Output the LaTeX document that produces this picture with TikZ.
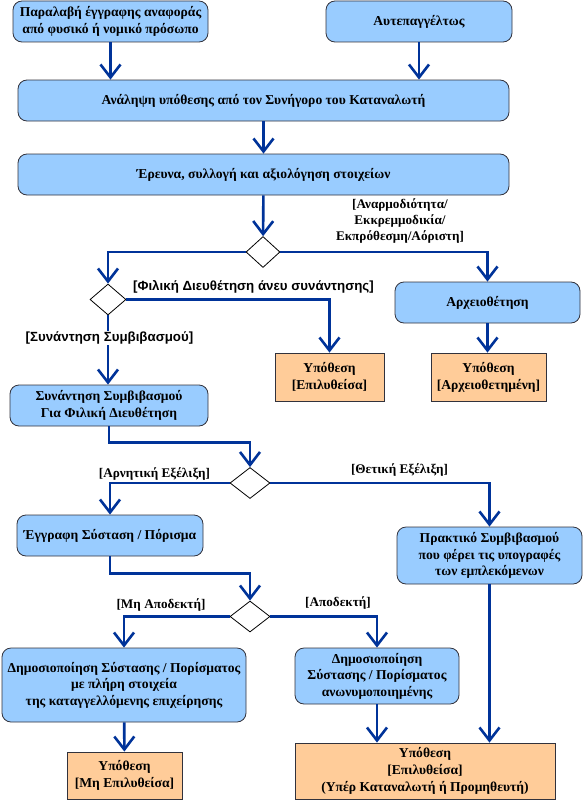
\documentclass[tikz,border=0pt]{standalone}
\usepackage{fontspec}
\setmainfont{Liberation Serif}
\newfontfamily\labelsans{Liberation Sans}
\usetikzlibrary{arrows.meta,shapes.geometric}
\definecolor{flowblue}{RGB}{0,51,153}
\definecolor{stepfill}{RGB}{153,204,255}
\definecolor{casefill}{RGB}{255,204,153}
\definecolor{edgegray}{RGB}{50,50,60}
\tikzset{
  stepbox/.style={draw=edgegray, line width=0.8pt, fill=stepfill, rounded corners=9pt,
    align=center, font=\bfseries\fontsize{13.6}{16.5}\selectfont, inner sep=0pt},
  casebox/.style={draw=edgegray, line width=0.8pt, fill=casefill,
    align=center, font=\bfseries\fontsize{13.6}{17}\selectfont, inner sep=0pt},
  choice/.style={draw=black, line width=0.8pt, fill=white, shape=diamond,
    minimum width=#1, minimum height=31pt, inner sep=0pt},
  choice/.default=36pt,
  flow/.style={draw=flowblue, line width=2.6pt, -{Straight Barb[length=13pt,width=20pt,line width=2.6pt]}},
  guard/.style={font=\bfseries\fontsize{13.2}{16}\selectfont, align=center, inner sep=1pt},
  sguard/.style={font=\labelsans\bfseries\fontsize{13.3}{15}\selectfont, inner sep=1pt}
}
\begin{document}
\begin{tikzpicture}[x=1pt,y=-1pt]
  \useasboundingbox (0,0) rectangle (583,800);
  % activities
  \node[stepbox, minimum width=195pt, minimum height=41pt] (recv) at (110.5,21.5)
    {Παραλαβή έγγραφης αναφοράς\\από φυσικό ή νομικό πρόσωπο};
  \node[stepbox, minimum width=186pt, minimum height=41pt] (auto) at (419,21.5) {Αυτεπαγγέλτως};
  \node[stepbox, minimum width=491pt, minimum height=41pt] (take) at (263.5,100.5)
    {Ανάληψη υπόθεσης από τον Συνήγορο του Καταναλωτή};
  \node[stepbox, minimum width=491pt, minimum height=41pt] (study) at (263.5,174.5)
    {Έρευνα, συλλογή και αξιολόγηση στοιχείων};
  \node[choice=34pt] (d1) at (263,252) {};
  \node[choice] (d2) at (108,299.5) {};
  \node[stepbox, minimum width=185pt, minimum height=41pt] (archive) at (487.5,302.5) {Αρχειοθέτηση};
  \node[casebox, minimum width=109pt, minimum height=48pt] (solved) at (329.5,377)
    {Υπόθεση\\{[Επιλυθείσα]}};
  \node[casebox, minimum width=115pt, minimum height=48pt] (filed) at (488.5,377)
    {Υπόθεση\\{[Αρχειοθετημένη]}};
  \node[stepbox, minimum width=198pt, minimum height=41pt] (meet) at (109,405.5)
    {Συνάντηση Συμβιβασμού\\Για Φιλική Διευθέτηση};
  \node[choice=40pt] (d3) at (250,483) {};
  \node[stepbox, minimum width=186pt, minimum height=41pt] (report) at (110,535.5)
    {Έγγραφη Σύσταση / Πόρισμα};
  \node[stepbox, minimum width=185pt, minimum height=57pt] (minutes) at (489.5,555.5)
    {Πρακτικό Συμβιβασμού\\που φέρει τις υπογραφές\\των εμπλεκόμενων};
  \node[choice=40pt] (d4) at (250,616.5) {};
  \node[stepbox, minimum width=244pt, minimum height=74pt] (pubfull) at (124,685)
    {Δημοσιοποίηση Σύστασης / Πορίσματος\\με πλήρη στοιχεία\\της καταγγελλόμενης επιχείρησης};
  \node[stepbox, minimum width=164pt, minimum height=56pt] (pubanon) at (377,676)
    {Δημοσιοποίηση\\Σύστασης / Πορίσματος\\ανωνυμοποιημένης};
  \node[casebox, minimum width=115pt, minimum height=47pt] (unsolved) at (124.5,775.5)
    {Υπόθεση\\{[Μη Επιλυθείσα]}};
  \node[casebox, minimum width=260pt, minimum height=56pt] (solvedfor) at (425,771)
    {Υπόθεση\\{[Επιλυθείσα]}\\(Υπέρ Καταναλωτή ή Προμηθευτή)};
  % connectors
  \begin{scope}[flow]
    \draw (recv.south) -- (recv.south |- take.north);
    \draw (auto.south) -- (auto.south |- take.north);
    \draw (take) -- (study);
    \draw (study) -- (d1);
    \draw (d1.west) -| (d2.north);
    \draw (d1.east) -| (archive.north);
    \draw (d2.east) -| (solved.north);
    \draw (d2.south) -- (d2.south |- meet.north);
    \draw (archive.south) -- (archive.south |- filed.north);
    \draw (meet.south) -- ++(0,16) -| (d3.north);
    \draw (d3.west) -| (report.north);
    \draw (d3.east) -| (minutes.north);
    \draw (report.south) -- ++(0,17) -| (d4.north);
    \draw (d4.west) -| (pubfull.north);
    \draw (d4.east) -| (pubanon.north);
    \draw (pubfull) -- (unsolved);
    \draw (pubanon.south) -- (pubanon.south |- solvedfor.north);
    \draw (minutes.south) -- (minutes.south |- solvedfor.north);
  \end{scope}
  % guards
  \node[guard] (gout) at (400,221) {[Αναρμοδιότητα/\\Εκκρεμμοδικία/\\Εκπρόθεσμη/Αόριστη]};
  \node[sguard] (gfriend) at (253.5,287) {[Φιλική Διευθέτηση άνευ συνάντησης]};
  \node[sguard, fill=white] (gmeet) at (109.5,338) {[Συνάντηση Συμβιβασμού]};
  \node[guard] (gneg) at (154.5,474) {[Αρνητική Εξέλιξη]};
  \node[guard] (gpos) at (399.5,470) {[Θετική Εξέλιξη]};
  \node[guard] (grej) at (161,605) {[Μη Αποδεκτή]};
  \node[guard] (gacc) at (338,603) {[Αποδεκτή]};
\end{tikzpicture}
\end{document}
